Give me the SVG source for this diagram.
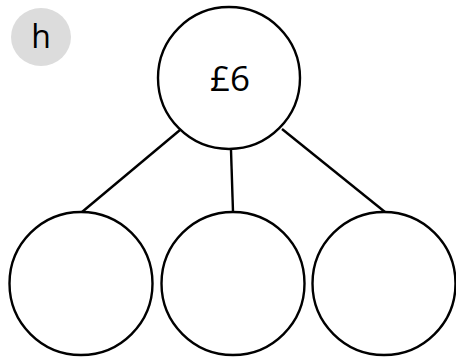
<svg xmlns="http://www.w3.org/2000/svg" width="456" height="358" viewBox="0 0 456 358">
<style>
.c{fill:#fff;stroke:#000;stroke-width:2.4}
.l{stroke:#000;stroke-width:2.4;fill:none}
.t{font-family:"Open Sans","DejaVu Sans",sans-serif;fill:#000;text-anchor:middle}
</style>
<rect width="456" height="358" fill="#fff"/>
<g id="label">
<ellipse cx="41" cy="37" rx="30" ry="29" fill="#dcdcdc"/>
<text class="t" x="41" y="48" font-size="32">h</text>
</g>
<g id="connectors">
<line class="l" x1="180" y1="130" x2="82" y2="212"/>
<line class="l" x1="231" y1="150" x2="233" y2="212"/>
<line class="l" x1="282" y1="129" x2="385" y2="212"/>
</g>
<g id="top">
<circle class="c" cx="229" cy="78" r="71"/>
<text class="t" x="230" y="91" font-size="35">£6</text>
</g>
<g id="left"><circle class="c" cx="81" cy="283.5" r="71.5"/></g>
<g id="middle"><circle class="c" cx="233" cy="283.5" r="71.5"/></g>
<g id="right"><circle class="c" cx="384" cy="283.5" r="71.5"/></g>
</svg>
